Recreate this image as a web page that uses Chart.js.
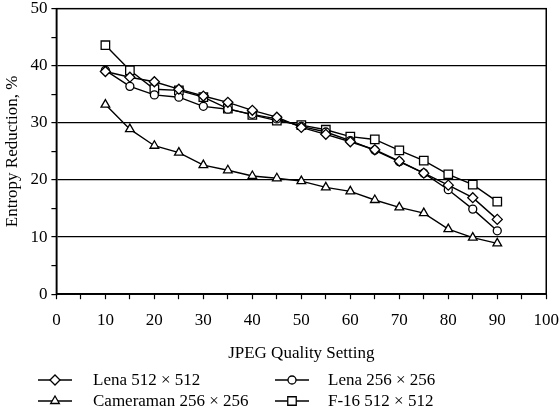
<!DOCTYPE html>
<html>
<head>
<meta charset="utf-8">
<script src="https://cdn.jsdelivr.net/npm/chart.js@4/dist/chart.umd.min.js"></script>
<style>
	html, body { margin: 0; padding: 0; background: #fff; overflow: hidden; }
	#wrap { width: 570px; height: 410px; }
</style>
</head>
<body>
<div id="wrap"><canvas id="entropy-chart"></canvas></div>
<script>
// JPEG quality settings on the x-axis
const quality = [10, 15, 20, 25, 30, 35, 40, 45, 50, 55, 60, 65, 70, 75, 80, 85, 90];

// Entropy reduction (%)
const lena512 = [39.0, 38.0, 37.2, 35.9, 34.7, 33.6, 32.2, 31.0, 29.2, 28.0, 26.7, 25.3, 23.3, 21.2, 19.1, 16.9, 13.1];
const lena256 = [39.2, 36.4, 34.9, 34.5, 32.9, 32.4, 31.5, 30.7, 29.4, 28.4, 26.9, 25.2, 23.2, 21.2, 18.3, 14.9, 11.1];
const cameraman256 = [33.2, 28.9, 26.0, 24.8, 22.6, 21.7, 20.7, 20.3, 19.8, 18.7, 18.0, 16.5, 15.2, 14.2, 11.4, 9.9, 8.9];
const f16_512 = [43.6, 39.2, 35.9, 35.7, 34.5, 32.5, 31.4, 30.4, 29.6, 28.8, 27.6, 27.1, 25.2, 23.4, 21.0, 19.2, 16.2];

const legendNames = ['Lena 512 \u00d7 512', 'Lena 256 \u00d7 256', 'Cameraman 256 \u00d7 256', 'F-16 512 \u00d7 512'];
const xTicks = [0, 10, 20, 30, 40, 50, 60, 70, 80, 90, 100];
const yTicks = [0, 10, 20, 30, 40, 50];

const serif = "'Liberation Serif', 'Times New Roman', serif";

function toPoints(values) {
	return quality.map((q, i) => ({ x: q, y: values[i] }));
}

function series(label, values, style, radius) {
	return {
		label: label,
		data: toPoints(values),
		borderColor: '#000',
		borderWidth: 1.4,
		backgroundColor: '#fff',
		pointStyle: style,
		pointRadius: radius,
		pointBorderWidth: 1.3,
		pointBackgroundColor: '#fff',
		pointBorderColor: '#000',
		tension: 0,
		fill: false
	};
}

// box around plot area + legend underneath
const framePlugin = {
	id: 'frame',
	afterDraw(chart) {
		const ctx = chart.ctx;
		const a = chart.chartArea;
		ctx.save();
		ctx.strokeStyle = '#000';
		ctx.lineWidth = 1.5;
		ctx.strokeRect(a.left, a.top, a.right - a.left, a.bottom - a.top);

		const rows = [380, 401];
		const cols = [{ lx: 38, tx: 93 }, { lx: 275, tx: 328 }];
		const ds = chart.data.datasets;
		ds.forEach((d, k) => {
			const r = rows[Math.floor(k / 2)];
			const c = cols[k % 2];
			ctx.strokeStyle = '#000';
			ctx.lineWidth = 1.4;
			ctx.beginPath();
			ctx.moveTo(c.lx, r);
			ctx.lineTo(c.lx + 34, r);
			ctx.stroke();
			ctx.fillStyle = '#fff';
			ctx.lineWidth = 1.3;
			Chart.helpers.drawPoint(ctx, { pointStyle: d.pointStyle, radius: d.pointRadius, rotation: 0, borderWidth: 1.3 }, c.lx + 17, r);
			ctx.fillStyle = '#000';
			ctx.font = '17px ' + serif;
			ctx.textBaseline = 'middle';
			ctx.textAlign = 'left';
			ctx.fillText(legendNames[k], c.tx, r + 1);
		});
		ctx.restore();
	}
};

const ctx = document.getElementById('entropy-chart').getContext('2d');
new Chart(ctx, {
	type: 'line',
	data: {
		datasets: [
			series(legendNames[0], lena512, 'rectRot', 5),
			series(legendNames[1], lena256, 'circle', 4),
			series(legendNames[2], cameraman256, 'triangle', 5),
			series(legendNames[3], f16_512, 'rect', 6)
		]
	},
	options: {
		responsive: true,
		maintainAspectRatio: false,
		animation: false,
		layout: {
			padding: { left: 2, right: 0, top: 0, bottom: 46 }
		},
		plugins: {
			legend: { display: false },
			tooltip: { enabled: false },
			title: { display: false }
		},
		scales: {
			x: {
				type: 'linear',
				min: 0,
				max: 100,
				border: { color: '#000', width: 1.5 },
				grid: {
					drawOnChartArea: false,
					drawTicks: true,
					tickLength: 5,
					tickColor: '#000',
					tickWidth: 1.2
				},
				ticks: {
					stepSize: 5,
					autoSkip: false,
					maxRotation: 0,
					color: '#000',
					padding: 11,
					font: { family: serif, size: 17 },
					callback: (v) => (xTicks.includes(v) ? String(v) : '')
				},
				title: {
					display: true,
					text: 'JPEG Quality Setting',
					color: '#000',
					font: { family: serif, size: 17 },
					padding: { top: 2, bottom: 0 }
				}
			},
			y: {
				min: 0,
				max: 50,
				border: { color: '#000', width: 1.5 },
				grid: {
					color: (c) => {
						const v = c.tick ? c.tick.value : 0;
						return (v % 10 === 0 && v > 0 && v < 50) ? '#000' : 'rgba(0,0,0,0)';
					},
					lineWidth: 1.2,
					tickLength: 5,
					tickColor: '#000',
					tickWidth: 1.2
				},
				ticks: {
					stepSize: 5,
					autoSkip: false,
					color: '#000',
					padding: 4,
					font: { family: serif, size: 17, lineHeight: 0.55 },
					callback: (v) => (yTicks.includes(v) ? String(v) : '')
				},
				title: {
					display: true,
					text: 'Entropy Reduction, %',
					color: '#000',
					font: { family: serif, size: 17 },
					padding: { top: 0, bottom: 4 }
				}
			}
		}
	},
	plugins: [framePlugin]
});
</script>
</body>
</html>
